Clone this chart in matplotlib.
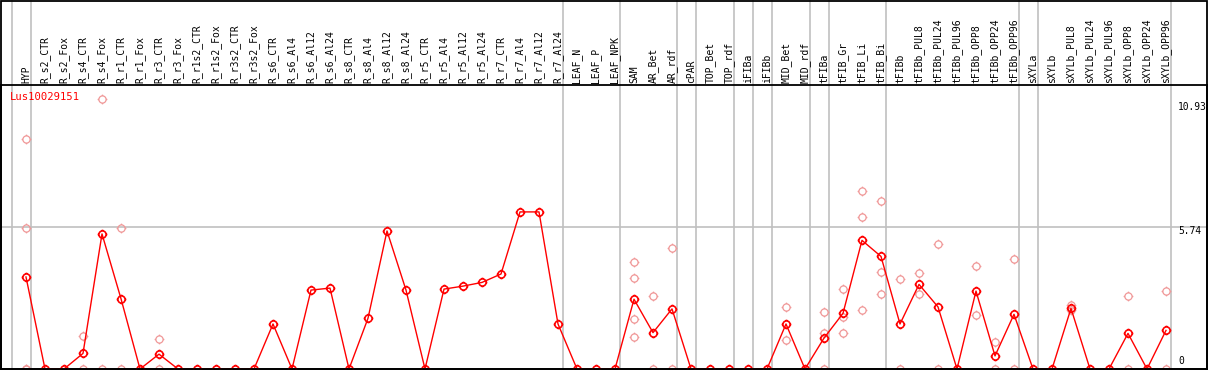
import numpy as np
import matplotlib
matplotlib.use("Agg")
import matplotlib.pyplot as plt
from matplotlib.path import Path
from matplotlib.patches import Rectangle

gene = "Lus10029151"

labels = ["HYP", "R_s2_CTR", "R_s2_Fox", "R_s4_CTR", "R_s4_Fox", "R_r1_CTR", "R_r1_Fox",
          "R_r3_CTR", "R_r3_Fox", "R_r1s2_CTR", "R_r1s2_Fox", "R_r3s2_CTR", "R_r3s2_Fox",
          "R_s6_CTR", "R_s6_Al4", "R_s6_Al12", "R_s6_Al24", "R_s8_CTR", "R_s8_Al4",
          "R_s8_Al12", "R_s8_Al24", "R_r5_CTR", "R_r5_Al4", "R_r5_Al12", "R_r5_Al24",
          "R_r7_CTR", "R_r7_Al4", "R_r7_Al12", "R_r7_Al24", "LEAF_N", "LEAF_P", "LEAF_NPK",
          "SAM", "AR_Bet", "AR_rdf", "cPAR", "TOP_Bet", "TOP_rdf", "iFIBa", "iFIBb",
          "MID_Bet", "MID_rdf", "tFIBa", "tFIB_Gr", "tFIB_Li", "tFIB_Bi", "tFIBb",
          "tFIBb_PUL8", "tFIBb_PUL24", "tFIBb_PUL96", "tFIBb_OPP8", "tFIBb_OPP24",
          "tFIBb_OPP96", "sXYLa", "sXYLb", "sXYLb_PUL8", "sXYLb_PUL24", "sXYLb_PUL96",
          "sXYLb_OPP8", "sXYLb_OPP24", "sXYLb_OPP96"]

means = [3.72, 0, 0, 0.63, 5.46, 2.84, 0,
         0.60, 0, 0, 0, 0, 0,
         1.82, 0, 3.19, 3.27, 0, 2.05,
         5.58, 3.19, 0, 3.23, 3.35, 3.50,
         3.84, 6.35, 6.35, 1.82, 0, 0, 0,
         2.82, 1.47, 2.43, 0, 0, 0, 0, 0,
         1.82, 0, 1.25, 2.25, 5.20, 4.55, 1.82,
         3.42, 2.51, 0, 3.15, 0.53,
         2.21, 0, 0, 2.45, 0, 0,
         1.44, 0, 1.56]

# individual replicates (only the ones that show)
replicates = {
    "HYP": [9.28, 5.69, 0, 0],
    "R_s4_CTR": [1.35, 0],
    "R_s4_Fox": [10.93, 0],
    "R_r1_CTR": [5.69, 0],
    "R_r3_CTR": [1.20, 0],
    "SAM": [4.31, 3.67, 2.01, 1.28],
    "AR_Bet": [2.94, 0],
    "AR_rdf": [4.88, 0],
    "MID_Bet": [2.49, 1.16],
    "tFIBa": [2.29, 1.45, 0],
    "tFIB_Gr": [3.22, 2.09, 1.44],
    "tFIB_Li": [7.18, 6.13, 2.37],
    "tFIB_Bi": [6.78, 3.91, 3.02],
    "tFIBb": [3.63, 0],
    "tFIBb_PUL8": [3.87, 3.02],
    "tFIBb_PUL24": [5.04, 0],
    "tFIBb_OPP8": [4.15, 2.18],
    "tFIBb_OPP24": [1.08, 0],
    "tFIBb_OPP96": [4.43, 0],
    "sXYLb_PUL8": [2.59, 2.38],
    "sXYLb_OPP8": [2.94, 0],
    "sXYLb_OPP96": [3.14, 0],
}

# last sample of each tissue group
group_ends = ["HYP", "R_r7_Al24", "LEAF_NPK", "AR_rdf", "cPAR", "TOP_rdf", "iFIBa",
              "iFIBb", "MID_rdf", "tFIBa", "tFIB_Bi", "tFIBb_OPP96", "sXYLa", "sXYLb_OPP96"]

ymax_label = 10.93
ymid_label = 5.74

# circle marker with four little ticks
circ = Path.unit_circle()
ticks = Path([(0, 1), (0, 1.35), (0, -1), (0, -1.35), (1, 0), (1.35, 0), (-1, 0), (-1.35, 0)],
             [Path.MOVETO, Path.LINETO] * 4)
mark = Path.make_compound_path(circ, ticks)

W, H = 1209, 370
fig = plt.figure(figsize=(W / 100, H / 100), dpi=100)
ax = fig.add_axes([1 / W, 1 / H, 1206 / W, 284 / H])

x = np.arange(len(labels))
ax.set_xlim((1 - 26) / 19, (1207 - 26) / 19)
ax.set_ylim(0, 2 * ymid_label)

mono = "DejaVu Sans Mono"

# group separators, running through the header too
for name in group_ends:
    xs = labels.index(name) + 0.24
    ax.axvline(xs, ymin=0, ymax=369 / 284, color="#c0c0c0", lw=1.2, clip_on=False, zorder=1)
ax.axvline(-1 + 0.24, ymin=0, ymax=369 / 284, color="#c0c0c0", lw=1.2, clip_on=False, zorder=1)
ax.axhline(ymid_label, color="#c0c0c0", lw=1.2, zorder=1)

# replicates
for name, vals in replicates.items():
    i = labels.index(name)
    ax.plot([i] * len(vals), vals, linestyle="none", marker=mark, ms=7, mfc="none",
            mec="#f09898", mew=0.9, zorder=2)

ax.plot(x, means, color="red", lw=1.0, zorder=3)
ax.plot(x, means, linestyle="none", marker=mark, ms=7, mfc="none", mec="red", mew=1.2, zorder=4)

for i, lab in enumerate(labels):
    ax.text(i, 286 / 284, lab, rotation=90, ha="center", va="bottom", fontsize=7.0,
            family=mono, transform=ax.get_xaxis_transform(), clip_on=False)

ax.text(9 / 1206, (369 - 97) / 284, gene, color="red", fontsize=7.6, family=mono,
        ha="left", va="center", transform=ax.transAxes)
ax.text(1177 / 1206, (369 - 107) / 284, f"{ymax_label:.2f}", fontsize=6.9, family=mono,
        ha="left", va="center", transform=ax.transAxes)
ax.text(1177 / 1206, (369 - 231) / 284, f"{ymid_label:.2f}", fontsize=6.9, family=mono,
        ha="left", va="center", transform=ax.transAxes)
ax.text(1177 / 1206, (369 - 361) / 284, "0", fontsize=6.9, family=mono,
        ha="left", va="center", transform=ax.transAxes)

ax.set_xticks([])
ax.set_yticks([])
for s in ax.spines.values():
    s.set_linewidth(1.3)
    s.set_color("black")

# outer frame round the header
fig.patches.append(Rectangle((1 / W, 1 / H), 1206 / W, 368 / H, transform=fig.transFigure,
                             fill=False, ec="black", lw=1.3))

fig.savefig("out.png", dpi=100)
